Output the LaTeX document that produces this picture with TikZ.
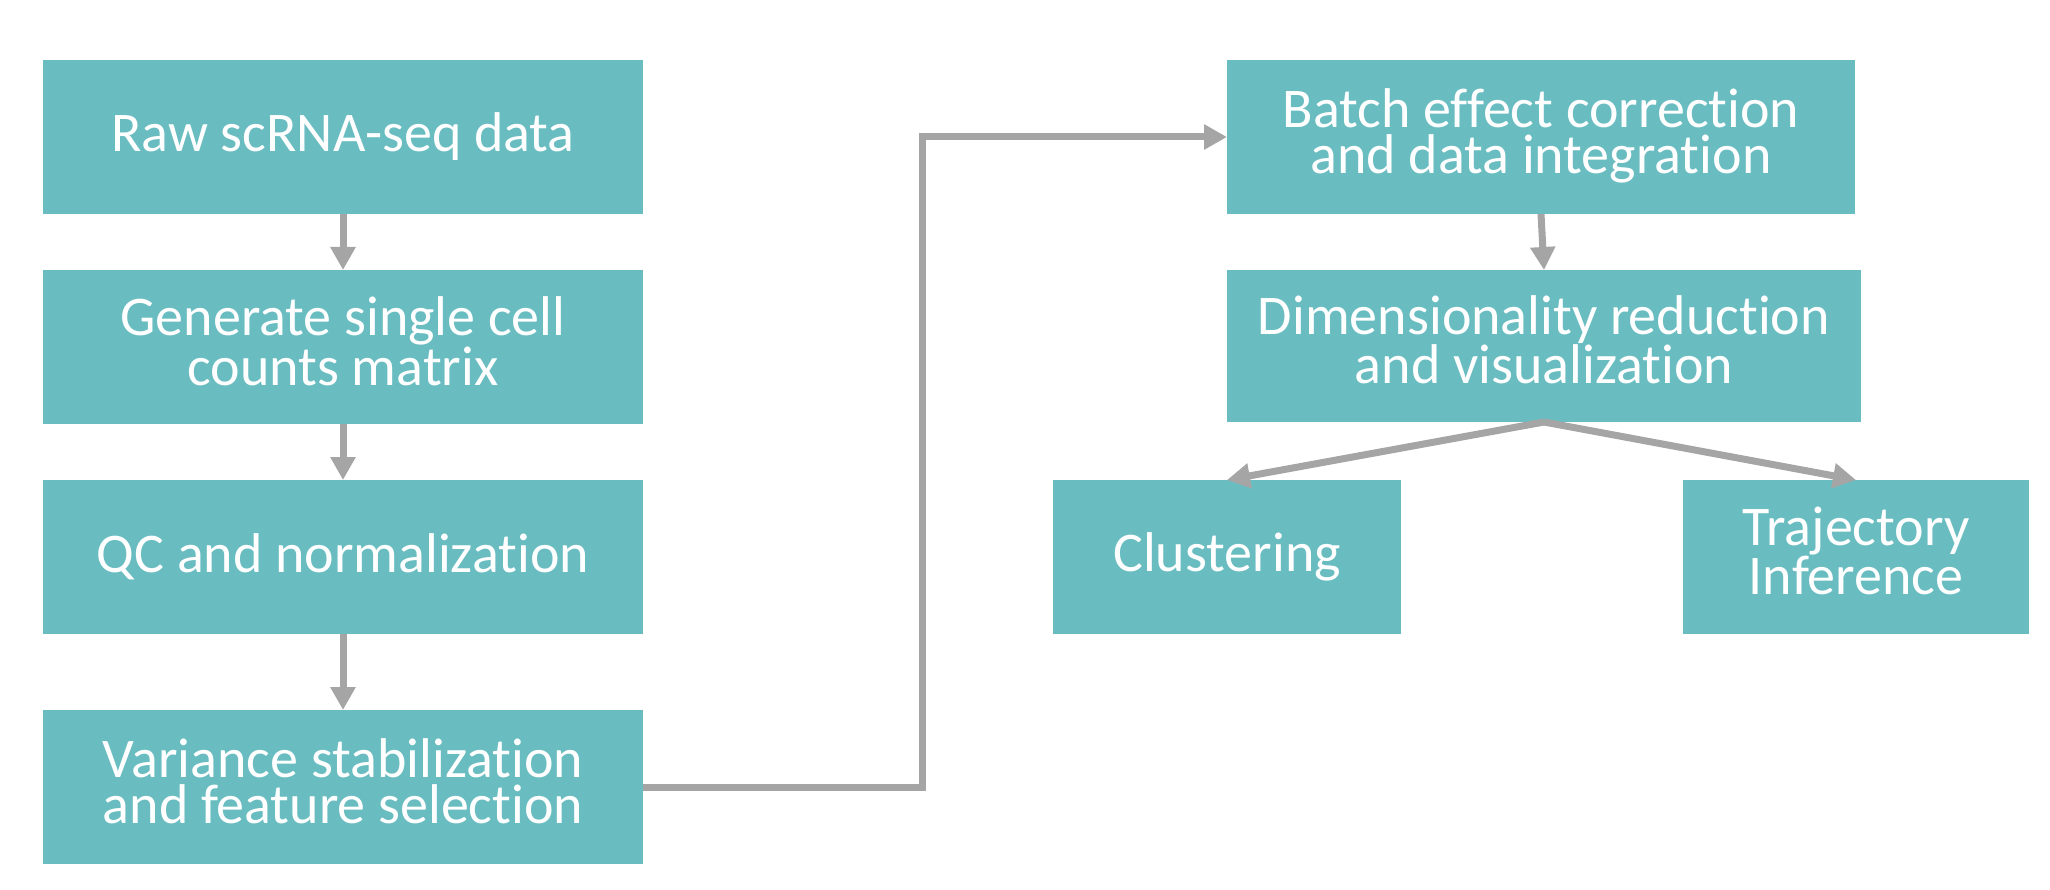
\documentclass[tikz,border=0pt]{standalone}
\usepackage{fontspec}
\setmainfont{Carlito}[Ligatures=NoCommon]
\usetikzlibrary{arrows.meta}
\definecolor{teal}{HTML}{69BDC1}
\definecolor{arrowgray}{HTML}{A5A5A5}
\newcommand{\lift}[1]{\rule[-#1]{0pt}{#1}}
\tikzset{
  stepbox/.style={fill=teal, draw=none, text=white, inner sep=0pt, outer sep=0pt,
    font=\fontsize{56pt}{46pt}\selectfont, align=center, minimum height=154pt},
  arr/.style={draw=arrowgray, line width=7pt, -{Triangle[length=23pt,width=24pt]}}
}
\begin{document}
\begin{tikzpicture}[x=1pt,y=-1pt]
\useasboundingbox (0,0) rectangle (2050,890);
\node[stepbox, minimum width=600pt] (raw) at (343,137) {Raw scRNA-seq data};
\node[stepbox, minimum width=600pt] (gen) at (343,347) {Generate single cell\\counts matrix\lift{12pt}};
\node[stepbox, minimum width=600pt] (qc) at (343,557) {QC and normalization\lift{4pt}};
\node[stepbox, minimum width=600pt] (var) at (343,787) {Variance stabilization\\and feature selection\lift{12pt}};
\node[stepbox, minimum width=628pt] (batch) at (1541,137) {Batch effect correction\\and data integration\lift{12pt}};
\node[stepbox, minimum width=634pt, minimum height=152pt] (dim) at (1544,346) {Dimensionality reduction\\and visualization\lift{12pt}};
\node[stepbox, minimum width=348pt] (clu) at (1227,557) {Clustering\lift{10pt}};
\node[stepbox, minimum width=346pt] (traj) at (1856,557) {Trajectory\\Inference\lift{12pt}};
\coordinate (mid) at (922,0);
\draw[arr] (raw.south) -- (gen.north);
\draw[arr] (gen.south) -- (qc.north);
\draw[arr] (qc.south) -- (var.north);
\draw[arr] (var.east) -- (var.east -| mid) -- (batch.west -| mid) -- (batch.west);
\draw[arr] (batch.south) -- (dim.north);
\draw[arr] (dim.south) -- (clu.north);
\draw[arr] (dim.south) -- (traj.north);
\end{tikzpicture}
\end{document}
